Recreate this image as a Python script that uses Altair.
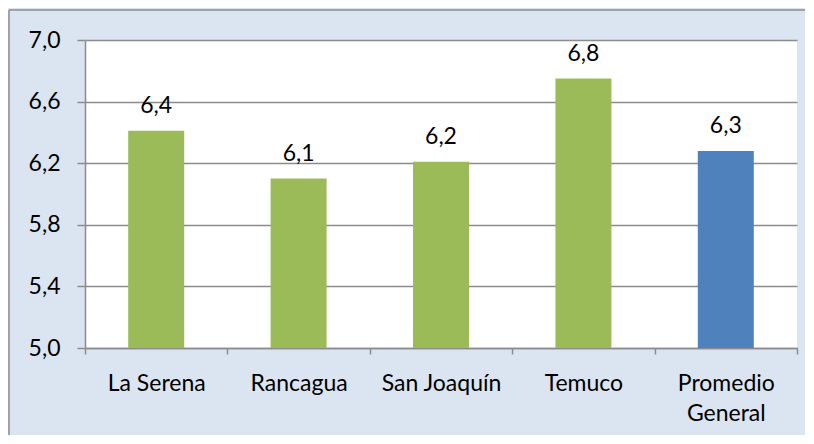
import altair as alt
import pandas as pd

# ---- data ----
sedes = ["La Serena", "Rancagua", "San Joaquín", "Temuco", "Promedio General"]
valores = [6.41, 6.10, 6.21, 6.75, 6.28]
tipo = ["Sede", "Sede", "Sede", "Sede", "Promedio"]
y_ticks = [5.0, 5.4, 5.8, 6.2, 6.6, 7.0]
y_domain = [5.0, 7.0]
titulo = "Gráfico: Evaluación General de la actividad por sede (N=126)"

df = pd.DataFrame({"sede": sedes, "valor": valores, "tipo": tipo})
one = pd.DataFrame({"t": [titulo]})

FONT = "Lato"
GRAY = "#8c8c8c"

base = alt.Chart(df)

x_enc = alt.X(
    "sede:N",
    sort=sedes,
    scale=alt.Scale(paddingInner=0, paddingOuter=0),
    axis=alt.Axis(
        title=None,
        labelAngle=0,
        labelFont=FONT,
        labelFontSize=23,
        labelColor="#000000",
        labelPadding=18,
        labelLineHeight=30,
        labelExpr="length(datum.label) > 12 ? split(datum.label, ' ') : datum.label",
        tickBand="extent",
        tickSize=6,
        tickColor=GRAY,
        tickWidth=1.5,
        domainColor=GRAY,
        domainWidth=1.5,
        grid=False,
    ),
)

y_enc = alt.Y(
    "valor:Q",
    scale=alt.Scale(domain=y_domain, zero=False, nice=False),
    axis=alt.Axis(
        title=None,
        values=y_ticks,
        labelExpr="replace(format(datum.value, '.1f'), '.', ',')",
        labelFont=FONT,
        labelFontSize=23,
        labelColor="#000000",
        labelPadding=17,
        tickSize=8,
        tickColor=GRAY,
        tickWidth=1.5,
        domainColor=GRAY,
        domainWidth=1.5,
        grid=True,
        gridColor=GRAY,
        gridWidth=1.5,
    ),
)

bars = base.mark_bar(size=56).encode(
    x=x_enc,
    y=y_enc,
    y2=alt.datum(y_domain[0]),
    color=alt.Color(
        "tipo:N",
        scale=alt.Scale(domain=["Sede", "Promedio"], range=["#9BBB59", "#4F81BD"]),
        legend=None,
    ),
)

labels = base.transform_calculate(
    etiqueta="replace(format(datum.valor, '.1f'), '.', ',')"
).mark_text(
    font=FONT, fontSize=23, color="#000000", baseline="alphabetic", dy=-18
).encode(
    x=alt.X("sede:N", sort=sedes),
    y=alt.Y("valor:Q"),
    text="etiqueta:N",
)

frame_left = alt.Chart(one).mark_rule(color=GRAY, strokeWidth=1.5).encode(
    x=alt.value(-76), y=alt.value(-30), y2=alt.value(420)
)
frame_top = alt.Chart(one).mark_rule(color=GRAY, strokeWidth=1.5).encode(
    x=alt.value(-76), x2=alt.value(760), y=alt.value(-30)
)
title = alt.Chart(one).mark_text(
    font=FONT, fontSize=24, fontWeight="bold", color="#000000",
    align="center", baseline="alphabetic"
).encode(x=alt.value(335), y=alt.value(-39), text="t:N")

chart = (
    alt.layer(bars, labels, frame_left, frame_top, title)
    .properties(
        width=712,
        height=308,
        padding={"left": 77, "top": 32, "right": 8, "bottom": 87},
        autosize=alt.AutoSizeParams(type="none"),
        background="#DBE5F1",
    )
    .configure_view(fill="white", stroke=None)
)

chart.save("out.html", embed_options={"renderer": "svg", "actions": False})
